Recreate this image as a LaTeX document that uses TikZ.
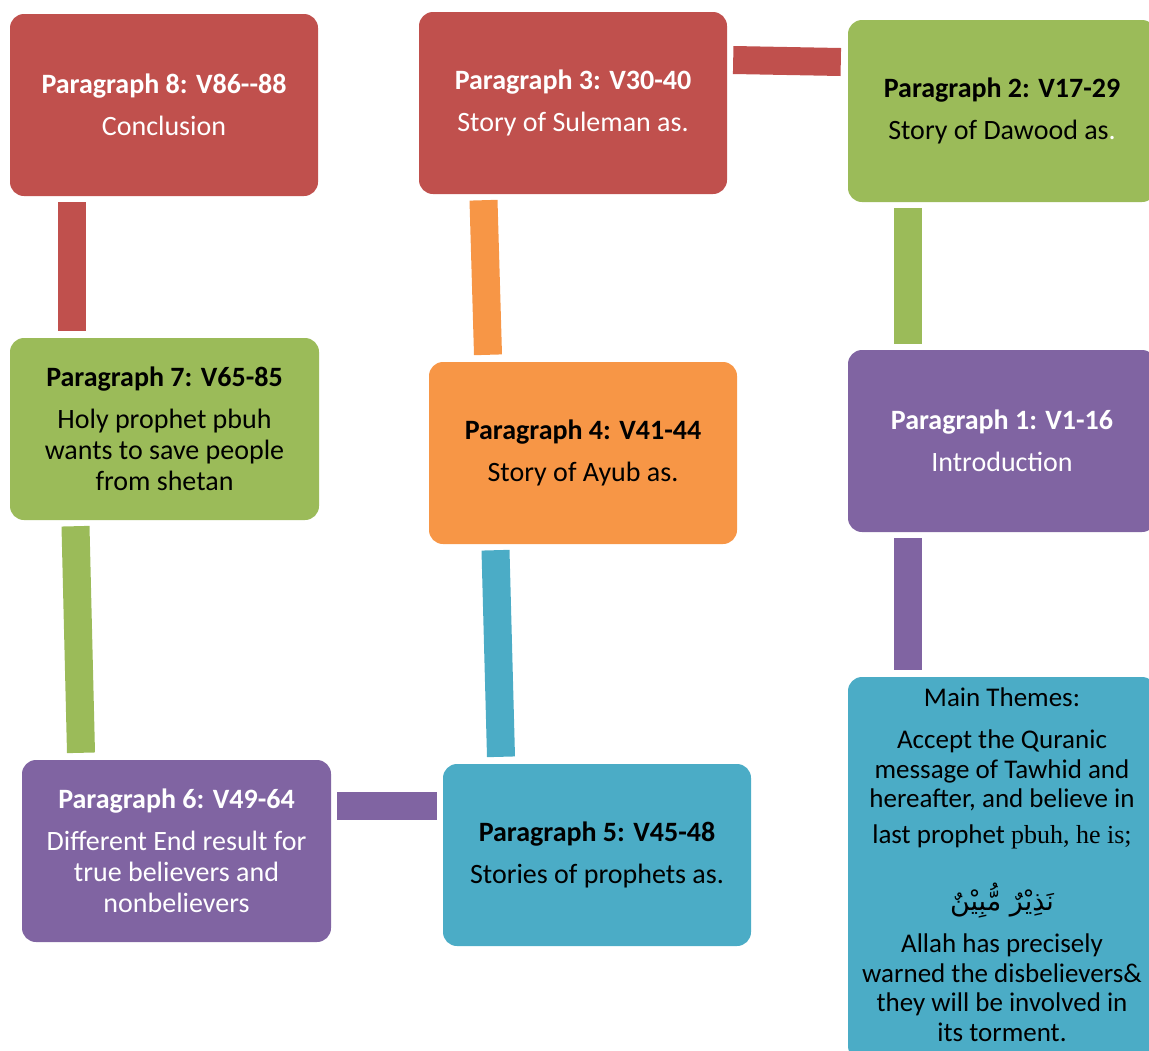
\documentclass[tikz,border=0pt]{standalone}
\usepackage{fontspec}
\setmainfont{Carlito}
\newfontfamily\arabicfont[Script=Arabic]{DejaVu Sans}
\newfontfamily\seriffont{Liberation Serif}
\TeXXeTstate=1
\definecolor{cred}{HTML}{C0504D}
\definecolor{cgreen}{HTML}{9BBB59}
\definecolor{cpurple}{HTML}{8064A2}
\definecolor{cblue}{HTML}{4BACC6}
\definecolor{corange}{HTML}{F79646}
\begin{document}
\begin{tikzpicture}[x=1pt,y=-1pt,
  box/.style={rounded corners=14pt, minimum width=308pt, minimum height=182pt, inner sep=0pt, align=center, font=\fontsize{28}{31}\selectfont, text=black},
  bar/.style={line width=28pt}]
\useasboundingbox (0,0) rectangle (1149,1050);
\node[box, fill=cred, text=white] (p8) at (164,105) {\textbf{Paragraph 8: V86-{}-88}\\[11pt] Conclusion};
\node[box, fill=cred, text=white] (p3) at (573,103) {\textbf{Paragraph 3: V30-40}\\[11pt] Story of Suleman as.};
\node[box, fill=cgreen] (p2) at (1002,111) {\textbf{Paragraph 2: V17-29}\\[11pt] Story of Dawood as\textcolor{white}{.}};
\node[box, fill=cgreen, minimum width=309pt] (p7) at (164.5,429) {\textbf{Paragraph 7: V65-85}\\[11pt] Holy prophet pbuh\\ wants to save people\\ from shetan};
\node[box, fill=corange] (p4) at (583,453) {\textbf{Paragraph 4: V41-44}\\[11pt] Story of Ayub as.};
\node[box, fill=cpurple, text=white] (p1) at (1002,441) {\textbf{Paragraph 1: V1-16}\\[11pt] Introduction};
\node[box, fill=cpurple, text=white, minimum width=309pt] (p6) at (176.5,851) {\textbf{Paragraph 6: V49-64}\\[11pt] Different End result for\\ true believers and\\ nonbelievers};
\node[box, fill=cblue] (p5) at (597,855) {\textbf{Paragraph 5: V45-48}\\[11pt] Stories of prophets as.};
\node[box, fill=cblue, minimum height=383pt] (mt) at (1002,868.5) {};
\node[anchor=north, align=center, inner sep=0pt, font=\fontsize{27}{29.5}\selectfont] (mttext) at (1002,688) {Main Themes:\\[12.5pt]
Accept the Quranic\\ message of Tawhid and\\ hereafter, and believe in\\[6.5pt]
last prophet {\seriffont\fontsize{26}{29.5}\selectfont pbuh, he is;}\\[33pt]
{\arabicfont\fontsize{27}{29.5}\selectfont\beginR نَذِيْرٌ مُّبِيْنٌ\endR}\\[13pt]
Allah has precisely\\ warned the disbelievers\&\\ they will be involved in\\ its torment.};
% connectors
\draw[bar, cred] ([shift={(6,-43)}]p3.east) -- ([shift={(-7,-49)}]p2.west);
\draw[bar, cred] ([shift={(-92.5,6)}]p8.south) -- ([shift={(-93,-7)}]p7.north);
\draw[bar, cgreen] ([shift={(-94.5,6)}]p2.south) -- ([shift={(-94.5,-6)}]p1.north);
\draw[bar, corange] ([shift={(-89.5,6)}]p3.south) -- ([shift={(-95,-7)}]p4.north);
\draw[bar, cgreen] ([shift={(-89,6)}]p7.south) -- ([shift={(-95.5,-7)}]p6.north);
\draw[bar, cblue] ([shift={(-87.5,6)}]p4.south) -- ([shift={(-96,-7)}]p5.north);
\draw[bar, cpurple] ([shift={(-94.5,6)}]p1.south) -- ([shift={(-94.5,-7)}]mt.north);
\draw[bar, cpurple] ([shift={(6,-45)}]p6.east) -- ([shift={(-6,-49)}]p5.west);
\end{tikzpicture}
\end{document}
